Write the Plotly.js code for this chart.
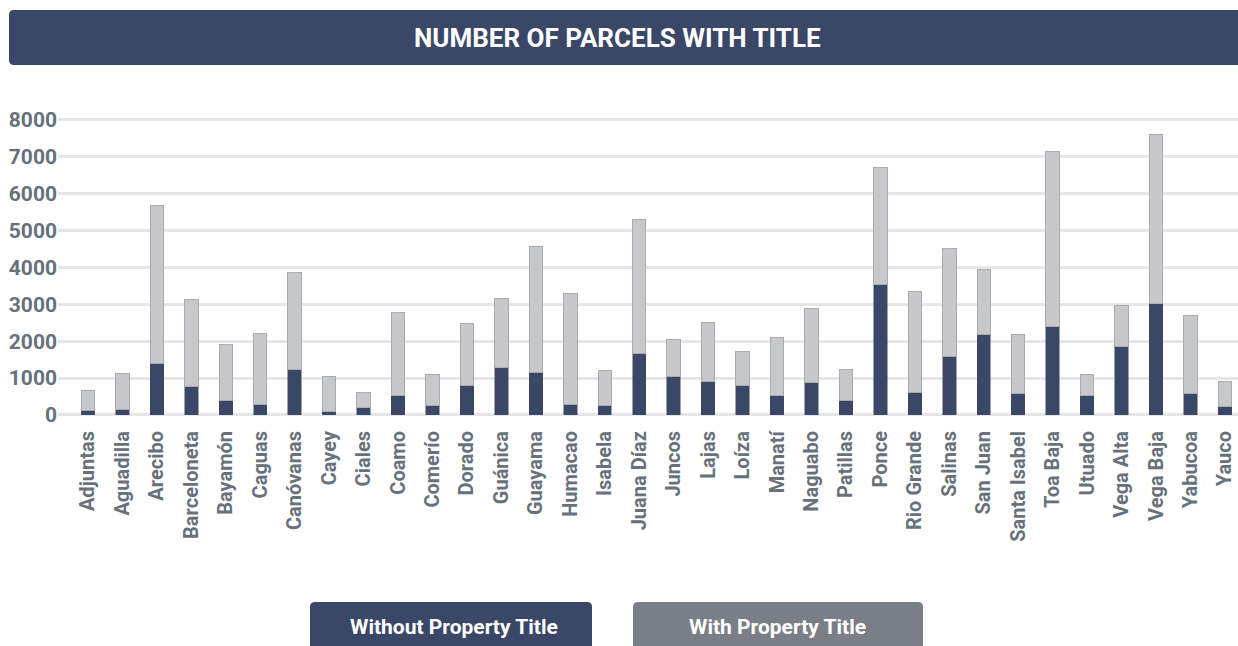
<!DOCTYPE html>
<html>
<head>
<meta charset="utf-8">
<script src="https://cdn.plot.ly/plotly-3.0.1.min.js"></script>
<style>html,body{margin:0;padding:0;background:#fff;}#chart{width:1238px;height:646px;}</style>
</head>
<body>
<div id="chart"></div>
<script>
const municipalities = ["Adjuntas","Aguadilla","Arecibo","Barceloneta","Bayamón","Caguas","Canóvanas","Cayey","Ciales","Coamo","Comerío","Dorado","Guánica","Guayama","Humacao","Isabela","Juana Díaz","Juncos","Lajas","Loíza","Manatí","Naguabo","Patillas","Ponce","Rio Grande","Salinas","San Juan","Santa Isabel","Toa Baja","Utuado","Vega Alta","Vega Baja","Yabucoa","Yauco"];
const withoutTitle = [110,136,1383,769,380,271,1221,108,208,542,262,796,1293,1157,298,262,1655,1040,904,796,542,886,380,3544,615,1591,2179,570,2387,524,1844,3029,570,217];
const totalParcels = [660,1121,5669,3137,1917,2206,3852,1040,615,2767,1094,2477,3165,4566,3291,1203,5298,2034,2495,1709,2098,2893,1239,6718,3336,4503,3951,2170,7143,1103,2966,7613,2694,913];
const withTitle = totalParcels.map((t,i)=>t-withoutTitle[i]);
const yTicks = [0,1000,2000,3000,4000,5000,6000,7000,8000];
const titleText = "NUMBER OF PARCELS WITH TITLE";
const legendNames = ["Without Property Title","With Property Title"];

const NAVY = "#3a4767";
const LIGHT = "#c7c8ca";
const LEGEND_GRAY = "#7a7f87";
const FONT = "Roboto, 'DejaVu Sans', sans-serif";

// plot area in pixels
const PL = 58, PR = 1238, PT = 100, PB = 420;
const px = x => (x - PL) / (PR - PL);
const py = y => (PB - y) / (PB - PT);

function roundRect(x0, y0, x1, y1, r) {
  const X = v => px(v), Y = v => py(v);
  return `M${X(x0 + r)},${Y(y0)} L${X(x1 - r)},${Y(y0)} Q${X(x1)},${Y(y0)} ${X(x1)},${Y(y0 + r)} ` +
         `L${X(x1)},${Y(y1 - r)} Q${X(x1)},${Y(y1)} ${X(x1 - r)},${Y(y1)} L${X(x0 + r)},${Y(y1)} ` +
         `Q${X(x0)},${Y(y1)} ${X(x0)},${Y(y1 - r)} L${X(x0)},${Y(y0 + r)} Q${X(x0)},${Y(y0)} ${X(x0 + r)},${Y(y0)} Z`;
}

const traces = [
  {type: "bar", name: legendNames[0], x: municipalities, y: withoutTitle,
   marker: {color: NAVY, line: {color: NAVY, width: 0.5}}, hoverinfo: "x+y"},
  {type: "bar", name: legendNames[1], x: municipalities, y: withTitle,
   marker: {color: LIGHT, line: {color: "#a9abaf", width: 1}}, hoverinfo: "x+y"}
];

const layout = {
  width: 1238, height: 646,
  margin: {l: PL, r: 1238 - PR, t: PT, b: 646 - PB, pad: 0},
  paper_bgcolor: "#fff", plot_bgcolor: "#fff",
  barmode: "stack", bargap: 0.61,
  showlegend: false,
  xaxis: {
    type: "category", range: [-0.87, 33.38],
    tickangle: -90, showgrid: false, zeroline: false, showline: false,
    ticks: "outside", ticklen: 2, tickcolor: "rgba(0,0,0,0)",
    tickfont: {family: FONT, size: 20, color: "#67717b", weight: "bold"}
  },
  yaxis: {
    range: [-136, 8542], tickvals: yTicks, ticktext: yTicks.map(String),
    showgrid: true, gridcolor: "#e6e6e6", gridwidth: 3,
    zeroline: false, showline: false,
    ticks: "", ticklen: 0,
    tickfont: {family: FONT, size: 21, color: "#67717b", weight: "bold"}
  },
  shapes: [
    {type: "path", xref: "paper", yref: "paper", path: roundRect(9, 10, 1250, 65, 5),
     fillcolor: NAVY, line: {width: 0}, layer: "above"},
    {type: "path", xref: "paper", yref: "paper", path: roundRect(310, 602, 592, 660, 5),
     fillcolor: NAVY, line: {width: 0}, layer: "above"},
    {type: "path", xref: "paper", yref: "paper", path: roundRect(633, 602, 923, 660, 5),
     fillcolor: LEGEND_GRAY, line: {width: 0}, layer: "above"}
  ],
  annotations: [
    {xref: "paper", yref: "paper", x: px(617), y: py(38), text: "<b>" + titleText + "</b>",
     showarrow: false, xanchor: "center", yanchor: "middle",
     font: {family: FONT, size: 26, color: "#ffffff"}},
    {xref: "paper", yref: "paper", x: px(454), y: py(627), text: "<b>" + legendNames[0] + "</b>",
     showarrow: false, xanchor: "center", yanchor: "middle",
     font: {family: FONT, size: 21, color: "#ffffff"}},
    {xref: "paper", yref: "paper", x: px(777), y: py(627), text: "<b>" + legendNames[1] + "</b>",
     showarrow: false, xanchor: "center", yanchor: "middle",
     font: {family: FONT, size: 21, color: "#ffffff"}}
  ]
};

Plotly.newPlot("chart", traces, layout, {displayModeBar: false, staticPlot: true});
</script>
</body>
</html>
